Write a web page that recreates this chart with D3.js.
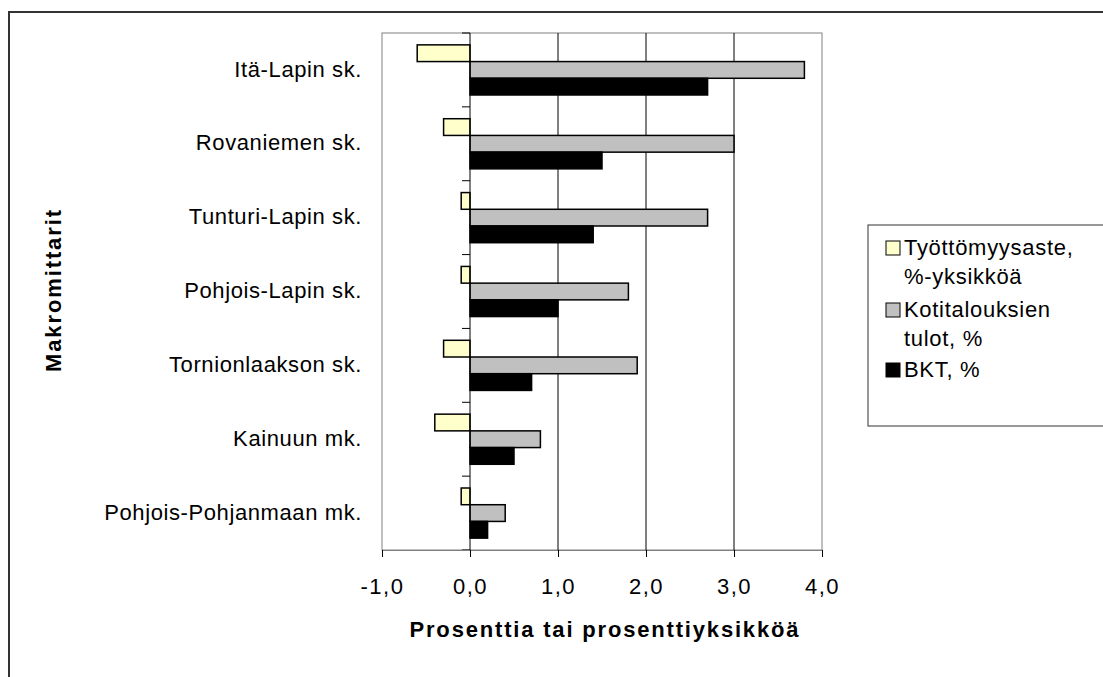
<!DOCTYPE html>
<html>
<head>
<meta charset="utf-8">
<script src="https://cdn.jsdelivr.net/npm/d3@7"></script>
<style>
  body { margin: 0; background: #fff; }
  text { font-family: "Liberation Sans", Arial, sans-serif; fill: #000; }
</style>
</head>
<body>
<script>
// data
var categories = ["Itä-Lapin sk.", "Rovaniemen sk.", "Tunturi-Lapin sk.", "Pohjois-Lapin sk.",
  "Tornionlaakson sk.", "Kainuun mk.", "Pohjois-Pohjanmaan mk."]
var seriesNames = ["Työttömyysaste, %-yksikköä", "Kotitalouksien tulot, %", "BKT, %"]
var unemployment = [-0.6, -0.3, -0.1, -0.1, -0.3, -0.4, -0.1]
var income = [3.8, 3.0, 2.7, 1.8, 1.9, 0.8, 0.4]
var gdp = [2.7, 1.5, 1.4, 1.0, 0.7, 0.5, 0.2]
var xTicks = [-1, 0, 1, 2, 3, 4]
var colors = ["#ffffcc", "#c0c0c0", "#000000"]

var width = 1103, height = 677
var plot = {left: 382, right: 822, top: 33, bottom: 550}

var svg = d3.select("body").append("svg")
  .attr("width", width)
  .attr("height", height)

// outer chart frame (runs off the right/bottom edge)
svg.append("rect")
  .attr("x", 9).attr("y", 12)
  .attr("width", width).attr("height", height)
  .attr("fill", "#fff")
  .attr("stroke", "#333").attr("stroke-width", 2)

var x = d3.scaleLinear().domain([-1, 4]).range([plot.left, plot.right])
var y = d3.scaleBand().domain(categories).range([plot.top, plot.bottom])
var ySub = d3.scaleBand().domain(d3.range(3)).range([0, y.bandwidth()]).paddingOuter(0.71)

// plot area border
svg.append("rect")
  .attr("x", plot.left).attr("y", plot.top)
  .attr("width", plot.right - plot.left).attr("height", plot.bottom - plot.top)
  .attr("fill", "none").attr("stroke", "#808080")

// vertical gridlines
svg.selectAll("line.grid")
  .data(xTicks.filter(d => d > 0 && d < 4))
  .enter().append("line")
  .attr("class", "grid")
  .attr("x1", d => x(d)).attr("x2", d => x(d))
  .attr("y1", plot.top).attr("y2", plot.bottom)
  .attr("stroke", "#000").attr("stroke-width", 1)

// bars
var rows = categories.map((c, i) => ({cat: c, vals: [unemployment[i], income[i], gdp[i]]}))
var groups = svg.selectAll("g.cat")
  .data(rows)
  .enter().append("g")
  .attr("class", "cat")
  .attr("transform", d => "translate(0," + y(d.cat) + ")")

groups.selectAll("rect")
  .data(d => d.vals)
  .enter().append("rect")
  .attr("x", d => x(Math.min(0, d)))
  .attr("width", d => Math.abs(x(d) - x(0)))
  .attr("y", (d, i) => ySub(i))
  .attr("height", ySub.bandwidth())
  .attr("fill", (d, i) => colors[i])
  .attr("stroke", "#000").attr("stroke-width", 1.5)

// category axis at zero
var yAxis = svg.append("g")
  .attr("transform", "translate(" + x(0) + ",0)")
yAxis.append("line")
  .attr("x1", 0).attr("x2", 0)
  .attr("y1", plot.top).attr("y2", plot.bottom)
  .attr("stroke", "#000")
yAxis.selectAll("line.tick")
  .data(d3.range(categories.length + 1))
  .enter().append("line")
  .attr("class", "tick")
  .attr("x1", -8).attr("x2", 0)
  .attr("y1", d => plot.top + d * y.step()).attr("y2", d => plot.top + d * y.step())
  .attr("stroke", "#000")

// category labels
svg.selectAll("text.cat")
  .data(categories)
  .enter().append("text")
  .attr("class", "cat")
  .attr("x", 362)
  .attr("y", d => y(d) + y.bandwidth() / 2)
  .attr("dy", "0.3em")
  .attr("text-anchor", "end")
  .style("font-size", "22px")
  .style("letter-spacing", "0.6px")
  .text(d => d)

// value axis
var fmt = d => (d < 0 ? "-" : "") + Math.abs(d).toFixed(1).replace(".", ",")
var xAxis = svg.append("g")
  .attr("transform", "translate(0," + plot.bottom + ")")
  .call(d3.axisBottom(x).tickValues(xTicks).tickFormat(fmt).tickSize(7).tickPadding(21))
xAxis.select(".domain").attr("stroke", "#808080")
xAxis.selectAll(".tick line").attr("stroke", "#000")
xAxis.selectAll(".tick text")
  .style("font-size", "22px")
  .style("letter-spacing", "1.5px")
  .style("font-family", "'Liberation Sans', Arial, sans-serif")
  .attr("fill", "#000")

// axis titles
svg.append("text")
  .attr("x", (plot.left + plot.right) / 2 + 2)
  .attr("y", 637)
  .attr("text-anchor", "middle")
  .attr("textLength", 389).attr("lengthAdjust", "spacing")
  .style("font-size", "22px").style("font-weight", "bold")
  .text("Prosenttia tai prosenttiyksikköä")

svg.append("text")
  .attr("transform", "translate(61,291) rotate(-90)")
  .attr("text-anchor", "middle")
  .attr("textLength", 162).attr("lengthAdjust", "spacing")
  .style("font-size", "22px").style("font-weight", "bold")
  .text("Makromittarit")

// legend
var legend = svg.append("g")
legend.append("rect")
  .attr("x", 868).attr("y", 225)
  .attr("width", 260).attr("height", 201)
  .attr("fill", "#fff").attr("stroke", "#333")

var legendLines = [
  ["Työttömyysaste,", "%-yksikköä"],
  ["Kotitalouksien", "tulot, %"],
  ["BKT, %"]
]
var legendBase = [255, 317, 377]
legendLines.forEach(function(lines, i) {
  legend.append("rect")
    .attr("x", 886).attr("y", legendBase[i] - 14)
    .attr("width", 14).attr("height", 14)
    .attr("fill", colors[i]).attr("stroke", "#000")
  lines.forEach(function(t, j) {
    legend.append("text")
      .attr("x", 904).attr("y", legendBase[i] + j * 29)
      .style("font-size", "22px")
      .style("letter-spacing", "0.7px")
      .text(t)
  })
})
</script>
</body>
</html>
